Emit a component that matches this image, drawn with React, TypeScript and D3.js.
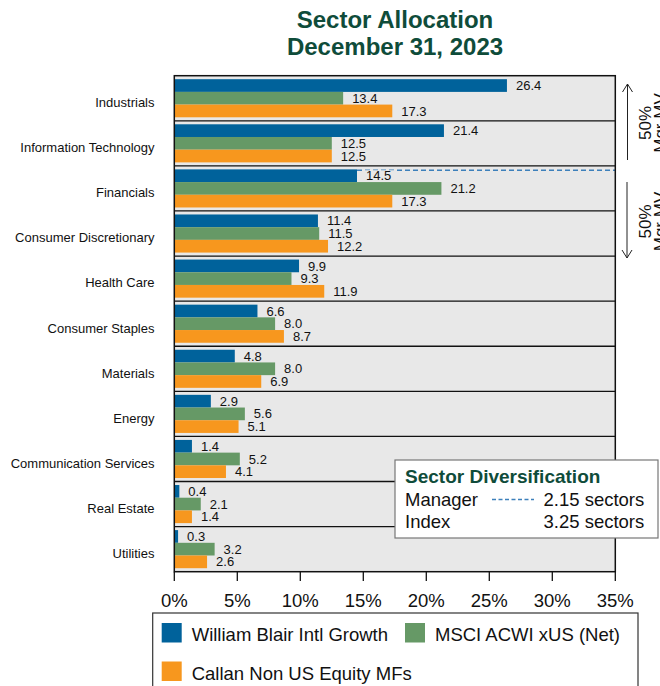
import React from "react";
import * as d3 from "d3";

const categories = [
  "Industrials",
  "Information Technology",
  "Financials",
  "Consumer Discretionary",
  "Health Care",
  "Consumer Staples",
  "Materials",
  "Energy",
  "Communication Services",
  "Real Estate",
  "Utilities",
];
const seriesNames = ["William Blair Intl Growth", "MSCI ACWI xUS (Net)", "Callan Non US Equity MFs"];
const managerValues = [26.4, 21.4, 14.5, 11.4, 9.9, 6.6, 4.8, 2.9, 1.4, 0.4, 0.3];
const indexValues = [13.4, 12.5, 21.2, 11.5, 9.3, 8.0, 8.0, 5.6, 5.2, 2.1, 3.2];
const peerValues = [17.3, 12.5, 17.3, 12.2, 11.9, 8.7, 6.9, 5.1, 4.1, 1.4, 2.6];
const seriesColors = ["#00629b", "#669966", "#f7971e"];
const xTicks = [0, 5, 10, 15, 20, 25, 30, 35];
const titleLines = ["Sector Allocation", "December 31, 2023"];
const diversificationTitle = "Sector Diversification";
const diversificationRows = [
  { label: "Manager", value: "2.15 sectors", dashed: true },
  { label: "Index", value: "3.25 sectors", dashed: false },
];
const halfLabel = ["50%", "Mgr MV"];
const medianSector = "Financials";

const FONT = "'Liberation Sans', Arial, Helvetica, sans-serif";
const TITLE_COLOR = "#0f4c3a";
const PLOT_BG = "#e8e8e8";
const DASH_COLOR = "#3d80bb";

export default function App() {
  const W = 660, H = 686;
  const left = 174.3, right = 615.3, top = 75.7, bottom = 571.7;
  const x = d3.scaleLinear().domain([0, 35]).range([left, right]);
  const y = d3.scaleBand<string>().domain(categories).range([top, bottom]);
  const rowH = y.bandwidth();
  const inner = d3.scaleBand<string>().domain(seriesNames).range([3.5, rowH - 3.5]);
  const seriesValues = [managerValues, indexValues, peerValues];
  const fmt = d3.format(".1f");
  const medY = (y(medianSector) as number) + 4.3;

  const arrow = (x0: number, y0: number, y1: number, headUp: boolean) => {
    const hy = headUp ? y0 : y1;
    const dir = headUp ? 1 : -1;
    return (
      <g stroke="#222" strokeWidth={1} fill="none">
        <line x1={x0} y1={y0} x2={x0} y2={y1} />
        <polyline points={`${x0 - 5},${hy + dir * 8} ${x0},${hy} ${x0 + 5},${hy + dir * 8}`} />
      </g>
    );
  };

  return (
    <svg width={W} height={H} style={{ position: "absolute", left: 0, top: 0, display: "block" }} fontFamily={FONT}>
      <rect x={0} y={0} width={W} height={H} fill="#fff" />
      {titleLines.map((t, i) => (
        <text key={t} x={395} y={28.3 + i * 27} textAnchor="middle" fontSize={24} fontWeight="bold" fill={TITLE_COLOR}>
          {t}
        </text>
      ))}
      {/* plot background */}
      <rect x={left} y={top} width={right - left} height={bottom - top} fill={PLOT_BG} />
      {/* bars */}
      {categories.map((c, ci) => (
        <g key={c}>
          {seriesNames.map((s, si) => {
            const v = seriesValues[si][ci];
            const by = (y(c) as number) + (inner(s) as number);
            return (
              <rect key={s} x={x(0)} y={by} width={x(v) - x(0)} height={inner.bandwidth()} fill={seriesColors[si]} />
            );
          })}
        </g>
      ))}
      {/* median dashed line */}
      <line x1={x(managerValues[categories.indexOf(medianSector)])} x2={right} y1={medY} y2={medY} stroke={DASH_COLOR} strokeWidth={1.4} strokeDasharray="5,3" />
      {/* value labels */}
      {categories.map((c, ci) => (
        <g key={c}>
          {seriesNames.map((s, si) => {
            const v = seriesValues[si][ci];
            const cy = (y(c) as number) + (inner(s) as number) + inner.bandwidth() / 2;
            const tx = x(v) + 9;
            const txt = fmt(v);
            return (
              <g key={s}>
                {c === medianSector && si === 0 && (
                  <rect x={tx - 1} y={cy - 5.5} width={txt.length * 7.2 + 1} height={11} fill={PLOT_BG} />
                )}
                <text x={tx} y={cy + 4.6} fontSize={13} fill="#111">
                  {txt}
                </text>
              </g>
            );
          })}
        </g>
      ))}
      {/* row separators */}
      {categories.slice(1).map((c) => (
        <line key={c} x1={left} x2={right} y1={y(c)} y2={y(c)} stroke="#111" strokeWidth={1.3} />
      ))}
      <rect x={left} y={top} width={right - left} height={bottom - top} fill="none" stroke="#111" strokeWidth={1.5} />
      {/* category labels */}
      {categories.map((c) => (
        <text key={c} x={154.5} y={(y(c) as number) + rowH / 2 + 8.8} textAnchor="end" fontSize={13} fill="#111">
          {c}
        </text>
      ))}
      {/* x axis */}
      {xTicks.map((t) => (
        <g key={t}>
          <line x1={x(t)} x2={x(t)} y1={bottom} y2={581} stroke="#111" strokeWidth={1.3} />
          <text x={x(t)} y={606.5} textAnchor="middle" fontSize={18.5} fill="#111">
            {t}%
          </text>
        </g>
      ))}
      {/* right arrows and labels */}
      {arrow(627.5, 84, 160, true)}
      {arrow(627, 182, 258, false)}
      {[123, 221.5].map((cy) => (
        <g key={cy}>
          <text transform={`translate(651,${cy}) rotate(-90)`} textAnchor="middle" fontSize={17} fill="#111">
            {halfLabel[0]}
          </text>
          <text transform={`translate(666,${cy}) rotate(-90)`} textAnchor="middle" fontSize={17} fill="#111">
            {halfLabel[1]}
          </text>
        </g>
      ))}
      {/* sector diversification box */}
      <rect x={395} y={460} width={263} height={78} fill="#fff" stroke="#777" strokeWidth={1.2} />
      <text x={405} y={483} fontSize={19} fontWeight="bold" fill={TITLE_COLOR}>
        {diversificationTitle}
      </text>
      {diversificationRows.map((r, i) => (
        <g key={r.label}>
          <text x={405} y={505.5 + i * 22.5} fontSize={18.5} fill="#111">
            {r.label}
          </text>
          {r.dashed && (
            <line x1={492} x2={534} y1={499.5} y2={499.5} stroke={DASH_COLOR} strokeWidth={1.3} strokeDasharray="4,2.5" />
          )}
          <text x={543.5} y={505.5 + i * 22.5} fontSize={18.5} fill="#111">
            {r.value}
          </text>
        </g>
      ))}
      {/* legend */}
      <rect x={152.7} y={613} width={485.3} height={90} fill="#fff" stroke="#333" strokeWidth={1.2} />
      {seriesNames.map((s, i) => {
        const lx = i === 1 ? 405 : 161.7;
        const ly = i === 2 ? 661.5 : 623;
        return (
          <g key={s}>
            <rect x={lx} y={ly} width={20} height={19.5} fill={seriesColors[i]} />
            <text x={lx + 30} y={ly + 18} fontSize={18.5} fill="#111">
              {s}
            </text>
          </g>
        );
      })}
    </svg>
  );
}
